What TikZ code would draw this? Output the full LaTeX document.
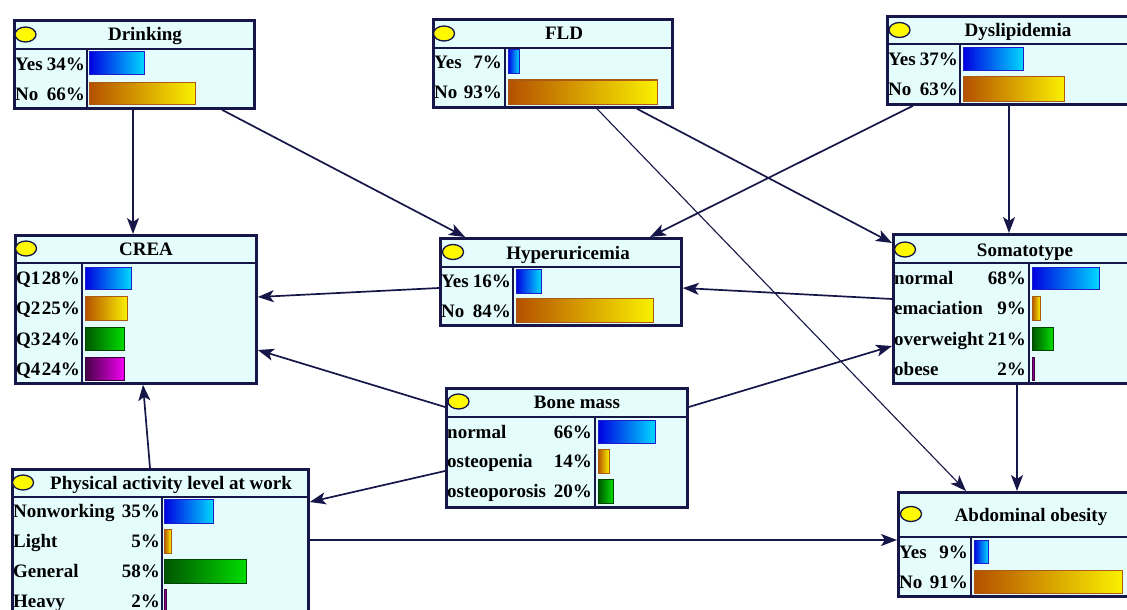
\documentclass[tikz,border=0pt]{standalone}
\usepackage{fontspec}
\setmainfont{Liberation Serif}
\usepackage{tikz}
\usetikzlibrary{arrows.meta, calc, positioning}
\definecolor{navy}{RGB}{22,22,72}
\definecolor{boxfill}{RGB}{229,252,253}
\definecolor{lampyellow}{RGB}{255,250,0}
\definecolor{bluebarline}{RGB}{30,30,200}
\definecolor{orangebarline}{RGB}{170,90,20}
\definecolor{greenbarline}{RGB}{0,70,0}
\definecolor{purplebarline}{RGB}{60,0,60}
\tikzstyle{netbox}=[draw=navy,line width=2.8pt,fill=boxfill,inner sep=0pt,anchor=north west]
\tikzstyle{lamp}=[draw=navy,line width=1.3pt,fill=lampyellow]
\tikzstyle{divline}=[draw=navy,line width=1.8pt]
\tikzstyle{ttl}=[anchor=base,inner sep=0pt,font=\fontsize{19}{21}\selectfont\bfseries]
\tikzstyle{lbl}=[anchor=base west,inner sep=0pt,font=\fontsize{19}{21}\selectfont\bfseries]
\tikzstyle{pct}=[anchor=base east,inner sep=0pt,font=\fontsize{19}{21}\selectfont\bfseries]
\tikzstyle{barblue}=[draw=bluebarline,line width=1pt,left color={rgb,255:red,0;green,0;blue,225},right color={rgb,255:red,0;green,215;blue,255}]
\tikzstyle{barorange}=[draw=orangebarline,line width=1pt,left color={rgb,255:red,180;green,80;blue,0},right color={rgb,255:red,250;green,240;blue,0}]
\tikzstyle{bargreen}=[draw=greenbarline,line width=1pt,left color={rgb,255:red,0;green,85;blue,0},right color={rgb,255:red,0;green,220;blue,0}]
\tikzstyle{barpurple}=[draw=purplebarline,line width=1pt,left color={rgb,255:red,70;green,0;blue,70},right color={rgb,255:red,240;green,0;blue,240}]
\tikzstyle{mainedge}=[->,draw=navy,line width=1.7pt]
\tikzstyle{thinedge}=[->,draw=navy,line width=1.1pt]

\begin{document}
\begin{tikzpicture}[x=1pt,y=-1pt,>={Stealth[length=16pt,width=12pt,inset=4pt]}]
\useasboundingbox (0,0) rectangle (1127,610);
\clip (0,0) rectangle (1127,610);
%\draw[step=50,gray,very thin] (0,0) grid (1127,610);

% Drinking
\node[netbox,minimum width=240pt,minimum height=88pt] (drink) at (13,19){};
\draw[lamp] (25.5,34.5) ellipse (10.5pt and 7.5pt);
\node[ttl] (drinkttl) at (145,41){Drinking};
\draw[divline] (13,49) -- (253,49); \draw[divline] (87,49) -- (87,107);
\node[lbl] (drinkyes) at (15,70.5){Yes}; \node[pct] (drinkyesp) at (85,70.5){34\%};
\draw[barblue] (89,52) rectangle (144,75);
\node[lbl] (drinkno) at (15,100){No}; \node[pct] (drinknop) at (85,100){66\%};
\draw[barorange] (89,82) rectangle (195,104);

% FLD
\node[netbox,minimum width=239pt,minimum height=88pt] (fld) at (432,18){};
\draw[lamp] (444,33.5) ellipse (10.5pt and 7.5pt);
\node[ttl] (fldttl) at (564,40){FLD};
\draw[divline] (432,48) -- (671,48); \draw[divline] (505,48) -- (505,106);
\node[lbl] (fldyes) at (434,68.5){Yes}; \node[pct] (fldyesp) at (502,68.5){7\%};
\draw[barblue] (508,50) rectangle (519,74);
\node[lbl] (fldno) at (434,98.5){No}; \node[pct] (fldnop) at (502,98.5){93\%};
\draw[barorange] (508,80) rectangle (657,104);

% Dyslipidemia
\node[netbox,minimum width=250pt,minimum height=88pt] (dysl) at (886,15){};
\draw[lamp] (899.5,30) ellipse (10.5pt and 7.5pt);
\node[ttl] (dyslttl) at (1018,37){Dyslipidemia};
\draw[divline] (886,44) -- (1136,44); \draw[divline] (960,44) -- (960,103);
\node[lbl] (dyslyes) at (888,66){Yes}; \node[pct] (dyslyesp) at (958,66){37\%};
\draw[barblue] (963,48) rectangle (1023,71);
\node[lbl] (dyslno) at (888,95.5){No}; \node[pct] (dyslnop) at (958,95.5){63\%};
\draw[barorange] (963,77) rectangle (1064,101);

% CREA
\node[netbox,minimum width=241pt,minimum height=148pt] (crea) at (14,234){};
\draw[lamp] (26,248.5) ellipse (10.5pt and 7.5pt);
\node[ttl] (creattl) at (146,255){CREA};
\draw[divline] (14,263) -- (255,263); \draw[divline] (82,263) -- (82,382);
\node[lbl] (creaqa) at (16,284.5){Q1}; \node[pct] (creaqap) at (80,284.5){28\%};
\draw[barblue] (85,267) rectangle (131,289);
\node[lbl] (creaqb) at (16,314.5){Q2}; \node[pct] (creaqbp) at (80,314.5){25\%};
\draw[barorange] (85,296) rectangle (127,320);
\node[lbl] (creaqc) at (16,345){Q3}; \node[pct] (creaqcp) at (80,345){24\%};
\draw[bargreen] (85,327) rectangle (124,350);
\node[lbl] (creaqd) at (16,375){Q4}; \node[pct] (creaqdp) at (80,375){24\%};
\draw[barpurple] (85,357) rectangle (124,380);

% Hyperuricemia
\node[netbox,minimum width=241pt,minimum height=87pt] (hyper) at (439,237){};
\draw[lamp] (453,252) ellipse (10.5pt and 7.5pt);
\node[ttl] (hyperttl) at (568,259){Hyperuricemia};
\draw[divline] (439,267) -- (680,267); \draw[divline] (513,267) -- (513,324);
\node[lbl] (hyperyes) at (441,287.5){Yes}; \node[pct] (hyperyesp) at (511,287.5){16\%};
\draw[barblue] (516,269) rectangle (541,293);
\node[lbl] (hyperno) at (441,317){No}; \node[pct] (hypernop) at (511,317){84\%};
\draw[barorange] (516,298) rectangle (653,322);

% Somatotype
\node[netbox,minimum width=244pt,minimum height=149pt] (soma) at (892,233){};
\draw[lamp] (905,249.5) ellipse (10.5pt and 7.5pt);
\node[ttl] (somattl) at (1025,256){Somatotype};
\draw[divline] (892,263) -- (1136,263); \draw[divline] (1029,263) -- (1029,382);
\node[lbl] (somanorm) at (894,284.5){normal}; \node[pct] (somanormp) at (1026,284.5){68\%};
\draw[barblue] (1032,267) rectangle (1099,289);
\node[lbl] (somaema) at (894,314.5){emaciation}; \node[pct] (somaemap) at (1026,314.5){9\%};
\draw[barorange] (1032,296) rectangle (1040,320);
\node[lbl] (somaover) at (894,345){overweight}; \node[pct] (somaoverp) at (1026,345){21\%};
\draw[bargreen] (1032,327) rectangle (1053,350);
\node[lbl] (somaobese) at (894,375){obese}; \node[pct] (somaobesep) at (1026,375){2\%};
\draw[barpurple] (1032,357) rectangle (1034,380);

% Bone mass
\node[netbox,minimum width=241pt,minimum height=119pt] (bone) at (445,387){};
\draw[lamp] (458.5,401.5) ellipse (10.5pt and 7.5pt);
\node[ttl] (bonettl) at (577,408){Bone mass};
\draw[divline] (445,417) -- (686,417); \draw[divline] (595,417) -- (595,506);
\node[lbl] (bonenorm) at (447,438){normal}; \node[pct] (bonenormp) at (592,438){66\%};
\draw[barblue] (598,420) rectangle (655,443);
\node[lbl] (bonepenia) at (447,467.5){osteopenia}; \node[pct] (bonepeniap) at (592,467.5){14\%};
\draw[barorange] (598,449) rectangle (609,473);
\node[lbl] (boneporo) at (447,497.5){osteoporosis}; \node[pct] (boneporop) at (592,497.5){20\%};
\draw[bargreen] (598,479) rectangle (613,503);

% Physical activity level at work
\node[netbox,minimum width=296pt,minimum height=157pt] (phys) at (11,468){};
\draw[lamp] (23,482.5) ellipse (10.5pt and 7.5pt);
\node[ttl] (physttl) at (171,489){Physical activity level at work};
\draw[divline] (11,497) -- (307,497); \draw[divline] (162,497) -- (162,625);
\node[lbl] (physnon) at (13,517.5){Nonworking}; \node[pct] (physnonp) at (160,517.5){35\%};
\draw[barblue] (164,499) rectangle (213,523);
\node[lbl] (physlight) at (13,547.5){Light}; \node[pct] (physlightp) at (160,547.5){5\%};
\draw[barorange] (164,529) rectangle (171,553);
\node[lbl] (physgen) at (13,577.5){General}; \node[pct] (physgenp) at (160,577.5){58\%};
\draw[bargreen] (164,559) rectangle (246,583);
\node[lbl] (physheavy) at (13,607.5){Heavy}; \node[pct] (physheavyp) at (160,607.5){2\%};
\draw[barpurple] (164,589) rectangle (166,612);

% Abdominal obesity
\node[netbox,minimum width=239pt,minimum height=104pt] (abd) at (897,491){};
\draw[lamp] (911,514) ellipse (10.5pt and 7.5pt);
\node[ttl] (abdttl) at (1031,521){Abdominal obesity};
\draw[divline] (897,537) -- (1136,537); \draw[divline] (971,537) -- (971,595);
\node[lbl] (abdyes) at (899,558){Yes}; \node[pct] (abdyesp) at (968,558){9\%};
\draw[barblue] (974,540) rectangle (988,563);
\node[lbl] (abdno) at (899,588){No}; \node[pct] (abdnop) at (968,588){91\%};
\draw[barorange] (974,570) rectangle (1122,593);

% links
\draw[mainedge] ($(drink.south west)+(120,0)$) -- ($(crea.north west)+(119,0)$);
\draw[mainedge] ($(drink.south west)+(209,0)$) -- ($(hyper.north west)+(26,0)$);
\draw[thinedge] ($(fld.south west)+(165,0)$) -- ($(abd.north west)+(69,0)$);
\draw[mainedge] ($(fld.south west)+(205,0)$) -- ($(soma.north west)+(0,10)$);
\draw[mainedge] ($(dysl.south west)+(27,0)$) -- ($(hyper.north west)+(211,0)$);
\draw[mainedge] ($(dysl.south west)+(123,0)$) -- ($(soma.north west)+(117,0)$);
\draw[mainedge] ($(hyper.north west)+(0,51)$) -- ($(crea.north east)+(0,63)$);
\draw[mainedge] ($(soma.north west)+(0,66)$) -- ($(hyper.north east)+(0,51)$);
\draw[mainedge] ($(soma.south west)+(125,0)$) -- ($(abd.north west)+(120,0)$);
\draw[mainedge] ($(bone.north west)+(0,20)$) -- ($(crea.north east)+(0,116)$);
\draw[mainedge] ($(bone.north east)+(0,20)$) -- ($(soma.north west)+(0,113)$);
\draw[mainedge] ($(bone.north west)+(0,84)$) -- ($(phys.north east)+(0,34)$);
\draw[mainedge] ($(phys.north west)+(139,0)$) -- ($(crea.south west)+(129,0)$);
\draw[mainedge] ($(phys.north east)+(0,72)$) -- ($(abd.north west)+(0,49)$);

\end{tikzpicture}
\end{document}
